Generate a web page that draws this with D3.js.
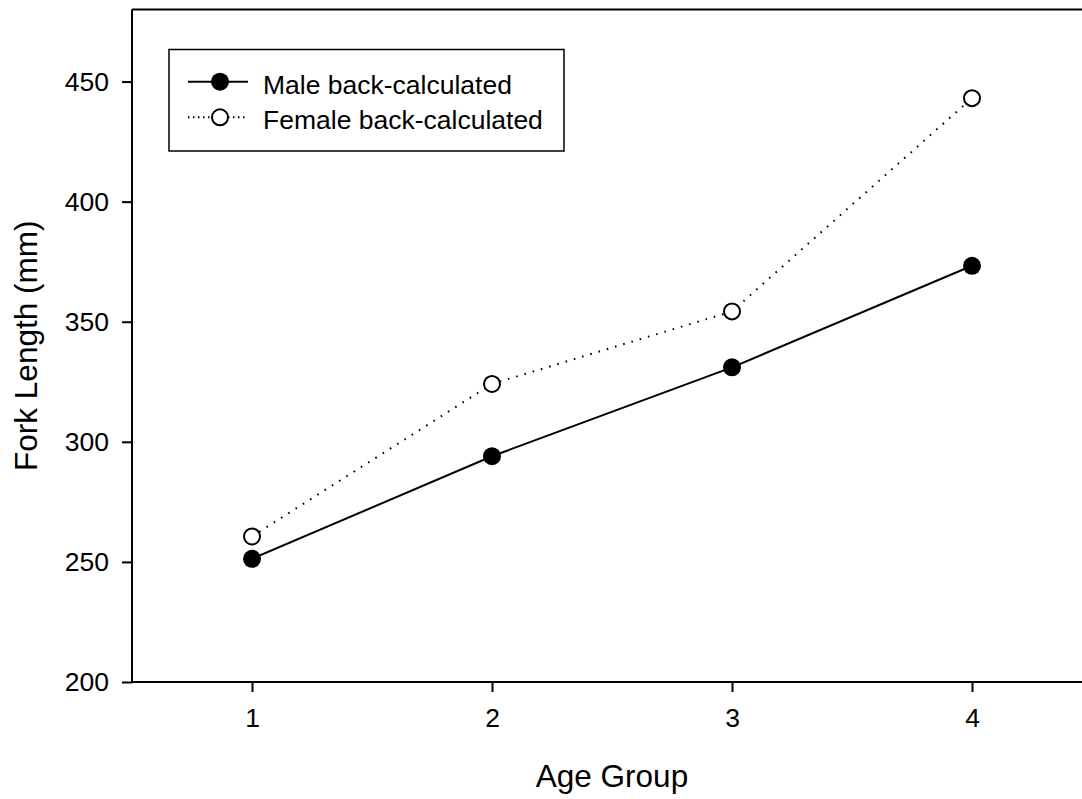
<!DOCTYPE html>
<html>
<head>
<meta charset="utf-8">
<script src="https://cdn.jsdelivr.net/npm/d3@7"></script>
<style>
  html, body { margin: 0; padding: 0; background: #fff; }
  svg { display: block; font-family: "Liberation Sans", Arial, sans-serif; }
</style>
</head>
<body>
<svg id="chart" width="1082" height="799"></svg>
<script>
// Mean back-calculated fork length by age group
const ageGroups = [1, 2, 3, 4];
const maleLength = [251.3, 294.0, 331.0, 373.3];
const femaleLength = [260.6, 324.1, 354.3, 443.1];
const yTicks = [200, 250, 300, 350, 400, 450];
const seriesNames = ["Male back-calculated", "Female back-calculated"];

const svg = d3.select("#chart");
const plot = { left: 132, right: 1092, top: 9.5, bottom: 682 };

const x = d3.scaleLinear().domain([0.5, 4.5]).range([plot.left, plot.right]);
const y = d3.scaleLinear().domain([200, 480]).range([plot.bottom, plot.top]);

// Axes
const xAxis = svg.append("g")
  .attr("transform", `translate(0,${plot.bottom})`)
  .call(d3.axisBottom(x).tickValues(ageGroups).tickFormat(d3.format("d")).tickSize(10).tickPadding(16));
const yAxis = svg.append("g")
  .attr("transform", `translate(${plot.left},0)`)
  .call(d3.axisLeft(y).tickValues(yTicks).tickSize(10).tickPadding(13));

[xAxis, yAxis].forEach(g => {
  g.select(".domain").attr("stroke", "#000").attr("stroke-width", 2);
  g.selectAll(".tick line").attr("stroke", "#000").attr("stroke-width", 2);
  g.selectAll(".tick text").attr("fill", "#000").style("font-size", "26.5px")
    .style("font-family", '"Liberation Sans", Arial, sans-serif');
});
// Plain spines without the outer end ticks
xAxis.select(".domain").attr("d", `M${plot.left},0H${plot.right}`);
yAxis.select(".domain").attr("d", `M0,${plot.bottom}V${plot.top}`);

// Top frame line
svg.append("line")
  .attr("x1", plot.left).attr("x2", plot.right)
  .attr("y1", plot.top).attr("y2", plot.top)
  .attr("stroke", "#000").attr("stroke-width", 2);

// Axis titles
svg.append("text")
  .attr("x", (plot.left + plot.right) / 2).attr("y", 787)
  .attr("text-anchor", "middle").style("font-size", "31.5px")
  .text("Age Group");
svg.append("text")
  .attr("transform", `translate(37,${(plot.top + plot.bottom) / 2}) rotate(-90)`)
  .attr("text-anchor", "middle").style("font-size", "31.5px")
  .text("Fork Length (mm)");

const line = d3.line().x(d => x(d[0])).y(d => y(d[1]));
const maleData = ageGroups.map((a, i) => [a, maleLength[i]]);
const femaleData = ageGroups.map((a, i) => [a, femaleLength[i]]);

// Female series (dotted, open markers)
svg.append("path").datum(femaleData)
  .attr("d", line).attr("fill", "none")
  .attr("stroke", "#000").attr("stroke-width", 2)
  .attr("stroke-dasharray", "1.6,7").attr("stroke-linecap", "butt");
// Male series (solid, filled markers)
svg.append("path").datum(maleData)
  .attr("d", line).attr("fill", "none")
  .attr("stroke", "#000").attr("stroke-width", 2);

svg.selectAll("circle.female").data(femaleData).enter().append("circle")
  .attr("class", "female")
  .attr("cx", d => x(d[0])).attr("cy", d => y(d[1])).attr("r", 8)
  .attr("fill", "#fff").attr("stroke", "#000").attr("stroke-width", 2);
svg.selectAll("circle.male").data(maleData).enter().append("circle")
  .attr("class", "male")
  .attr("cx", d => x(d[0])).attr("cy", d => y(d[1])).attr("r", 9)
  .attr("fill", "#000");

// Legend
const legend = svg.append("g");
legend.append("rect")
  .attr("x", 169).attr("y", 49.5).attr("width", 395).attr("height", 101.5)
  .attr("fill", "#fff").attr("stroke", "#000").attr("stroke-width", 1.5);

const rows = [
  { name: seriesNames[0], y: 81.7, dash: null, fill: "#000", r: 9 },
  { name: seriesNames[1], y: 117.3, dash: "1.5,3.5", fill: "#fff", r: 8 }
];
rows.forEach(r => {
  legend.append("line")
    .attr("x1", 188).attr("x2", 248).attr("y1", r.y).attr("y2", r.y)
    .attr("stroke", "#000").attr("stroke-width", 2)
    .attr("stroke-dasharray", r.dash);
  legend.append("circle")
    .attr("cx", 220).attr("cy", r.y).attr("r", r.r)
    .attr("fill", r.fill).attr("stroke", "#000").attr("stroke-width", r.fill === "#000" ? 0 : 2);
  legend.append("text")
    .attr("x", 263).attr("y", r.y + 11.8)
    .style("font-size", "26.5px").text(r.name);
});
</script>
</body>
</html>
